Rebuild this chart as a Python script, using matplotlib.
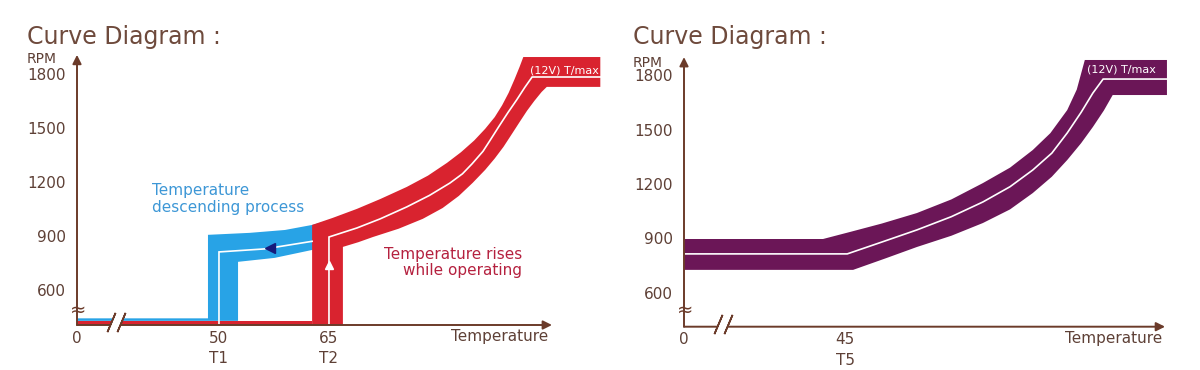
import numpy as np
import matplotlib.pyplot as plt

# colours
BROWN = '#6b3b2a'
TXT = '#5e4036'
RED = '#d9232f'
BLUE = '#28a3e6'
PURPLE = '#6b1657'
NAVY = '#161a7a'
BLUE_TXT = '#3d97d6'
RED_TXT = '#b5213f'

RPM_TICKS = [600, 900, 1200, 1500, 1800]

# ---------------- left diagram (T1 / T2) ----------------
L_TICKS = [0, 50, 65]
L_TICKLABELS = ['0', '50\nT1', '65\nT2']

low_red_t = [0, 62.7]
low_red_rpm = [405, 428]
low_blue_t = [0, 48.5]
low_blue_rpm = [428, 442]

# blue "descending" band
blue_top_t = [48.5, 54.2, 59.0, 62.7, 64.0]
blue_top_rpm = [906, 917, 933, 961, 975]
blue_bot_t = [52.6, 57.6, 62.7, 64.0]
blue_bot_rpm = [756, 778, 822, 830]
blue_line_t = [50, 50, 56.3, 62.7]
blue_line_rpm = [405, 811, 828, 870]
blue_arrow = (57.0, 832)

# red "rising" band
red_block_t = [62.7, 66.9]
red_outer_t = [62.7, 65.5, 68.8, 72.0, 75.6, 78.5, 81.1, 83.0, 84.8, 86.3,
               87.6, 88.6, 89.5, 90.3, 91.0, 91.5, 102.0]
red_outer_rpm = [961, 1000, 1050, 1105, 1172, 1235, 1306, 1365, 1430, 1495,
                 1560, 1625, 1695, 1770, 1840, 1894, 1894]
red_inner_t = [66.9, 69.0, 71.0, 74.5, 77.8, 80.5, 82.7, 84.6, 86.3, 87.6,
               88.8, 90.0, 91.0, 92.0, 93.0, 94.0, 94.7, 102.0]
red_inner_rpm = [839, 865, 894, 940, 995, 1055, 1122, 1195, 1267, 1330,
                 1395, 1470, 1533, 1595, 1650, 1700, 1728, 1728]
red_line_t = [65, 65, 68.8, 72.0, 75.6, 78.7, 81.5, 83.2, 84.5, 86.0, 87.0,
              88.2, 89.4, 90.6, 91.7, 92.7, 102.0]
red_line_rpm = [405, 894, 944, 995, 1061, 1125, 1194, 1245, 1300, 1370, 1433,
                1510, 1585, 1656, 1725, 1783, 1783]
red_arrow = (65, 739)

# ---------------- right diagram (T5) ----------------
R_TICKS = [0, 45]
R_TICKLABELS = ['0', '45\nT5']

purple_top_t = [0, 42.0, 45.7, 50.0, 54.8, 59.5, 63.8, 67.5, 70.6, 73.0,
                75.3, 76.6, 77.7, 88.9]
purple_top_rpm = [897, 897, 936, 982, 1040, 1115, 1205, 1290, 1387, 1480,
                  1607, 1720, 1883, 1883]
purple_bot_t = [0, 46.1, 50.5, 54.8, 59.5, 63.8, 67.5, 70.6, 73.2, 75.3,
                77.2, 78.8, 80.3, 81.5, 88.9]
purple_bot_rpm = [727, 727, 790, 853, 915, 985, 1060, 1150, 1240, 1332,
                  1425, 1514, 1605, 1690, 1690]
purple_line_t = [0, 45.3, 50.0, 54.8, 59.5, 63.8, 67.5, 70.6, 73.2, 75.3,
                 77.2, 78.8, 80.2, 88.9]
purple_line_rpm = [815, 815, 880, 947, 1020, 1101, 1185, 1277, 1370, 1481,
                   1595, 1701, 1778, 1778]


def tx(t, x0, brk):
    # broken temperature axis: 0..brk squeezed into x0..brk
    t = np.asarray(t, dtype=float)
    return np.where(t < brk, x0 + t * (brk - x0) / brk, t)


def band(ax, top_t, top_rpm, bot_t, bot_rpm, x0, brk, color, start=None):
    xs = list(tx(top_t, x0, brk)) + list(tx(bot_t, x0, brk))[::-1]
    ys = list(top_rpm) + list(bot_rpm)[::-1]
    if start is not None:
        xs = [tx(start[0], x0, brk)] + xs + [tx(start[1], x0, brk)]
        ys = [start[2]] + ys + [start[2]]
    ax.fill(xs, ys, color=color, lw=0, zorder=2)


def axis_frame(ax, x0, xmax, x_arrow, y0, ymax, y_arrow, ticks, labels,
               brk, temp_x, ybrk):
    ax.set_xlim(x0, xmax)
    ax.set_ylim(y0, ymax)
    for s in ax.spines.values():
        s.set_visible(False)
    ax.set_yticks(RPM_TICKS)
    ax.set_yticklabels([str(v) for v in RPM_TICKS])
    ax.set_xticks(list(tx(ticks, x0, brk)))
    ax.set_xticklabels(labels)
    ax.tick_params(axis='y', length=0, pad=8, labelsize=11, labelcolor=TXT)
    ax.tick_params(axis='x', length=0, pad=4, labelsize=11, labelcolor=TXT)
    for lab in ax.get_xticklabels():
        lab.set_linespacing(1.45)

    arr = dict(arrowstyle='-|>', color=BROWN, lw=1.4, mutation_scale=13,
               shrinkA=0, shrinkB=0)
    ax.annotate('', xy=(x_arrow, y0), xytext=(x0, y0), arrowprops=arr,
                annotation_clip=False, zorder=5)
    ax.annotate('', xy=(x0, y_arrow), xytext=(x0, y0), arrowprops=arr,
                annotation_clip=False, zorder=5)
    ax.annotate('Temperature', xy=(temp_x, y0), xytext=(0, -3),
                textcoords='offset points', ha='right', va='top',
                fontsize=11, color=TXT)

    # axis breaks
    ax.annotate('≈', xy=(x0, ybrk), xytext=(1, 0), textcoords='offset points',
                ha='center', va='center', fontsize=14, color=BROWN, zorder=7,
                annotation_clip=False)
    ax.plot([brk], [y0 + 14], marker=(2, 2, -23), ms=16, mew=7,
            color='white', zorder=6, clip_on=False)
    for dx in (-0.7, 0.7):
        ax.plot([brk + dx], [y0 + 14], marker=(2, 2, -23), ms=15, mew=1.2,
                color=BROWN, zorder=7, clip_on=False)


fig = plt.figure(figsize=(12, 3.7), dpi=100)
ax1 = fig.add_axes([77 / 1200, 45 / 370, 528 / 1200, 275 / 370])
ax2 = fig.add_axes([684 / 1200, 43.3 / 370, 496 / 1200, 276.7 / 370])

# ---- left ----
L_X0, L_BRK = 30.64, 36.0
ax1.fill_between(tx(low_red_t, L_X0, L_BRK), low_red_rpm[0], low_red_rpm[1],
                 color=RED, lw=0, zorder=1)
band(ax1, [0, 48.5] + blue_top_t, [low_blue_rpm[1], low_blue_rpm[1]] + blue_top_rpm,
     [low_blue_t[0], 52.6] + blue_bot_t, [low_blue_rpm[0], low_blue_rpm[0]] + blue_bot_rpm,
     L_X0, L_BRK, BLUE)
ax1.plot(tx(blue_line_t, L_X0, L_BRK), blue_line_rpm, color='white', lw=1.2,
         solid_joinstyle='miter', zorder=3)
ax1.plot(tx([blue_arrow[0]], L_X0, L_BRK), [blue_arrow[1]], marker='<', ms=7,
         color=NAVY, lw=0, zorder=4)

band(ax1, red_outer_t, red_outer_rpm, red_inner_t, red_inner_rpm,
     L_X0, L_BRK, RED, start=(red_block_t[0], red_block_t[1], low_red_rpm[0]))
ax1.plot(tx(red_line_t, L_X0, L_BRK), red_line_rpm, color='white', lw=1.2,
         solid_joinstyle='miter', zorder=3)
ax1.plot([red_arrow[0]], [red_arrow[1]], marker='^', ms=6, color='white',
         lw=0, zorder=4)

ax1.text(92.4, 1817, '(12V) T/max', color='white', fontsize=8,
         ha='left', va='center', zorder=4)
ax1.text(40.9, 1105, 'Temperature\ndescending process', color=BLUE_TXT,
         fontsize=11, ha='left', va='center', linespacing=1.1)
ax1.text(91.3, 752, 'Temperature rises\nwhile operating', color=RED_TXT,
         fontsize=11, ha='right', va='center', multialignment='right',
         linespacing=1.1)

axis_frame(ax1, L_X0, 102.64, 95.41, 405, 1933, 1906, L_TICKS, L_TICKLABELS,
           L_BRK, 94.86, 489)

# ---- right ----
R_X0, R_BRK = 23.04, 28.4
band(ax2, purple_top_t, purple_top_rpm, purple_bot_t, purple_bot_rpm,
     R_X0, R_BRK, PURPLE)
ax2.plot(tx(purple_line_t, R_X0, R_BRK), purple_line_rpm, color='white',
         lw=1.2, solid_joinstyle='miter', zorder=3)
ax2.text(78.0, 1828, '(12V) T/max', color='white', fontsize=8,
         ha='left', va='center', zorder=4)

axis_frame(ax2, R_X0, 90.68, 88.64, 414, 1938, 1899, R_TICKS, R_TICKLABELS,
           R_BRK, 88.23, 506)

# titles and RPM captions
for xp in (27, 633):
    fig.text(xp / 1200, 1 - 44 / 370, 'Curve Diagram :', fontsize=17,
             color='#6e4a3c', va='baseline')
fig.text(27 / 1200, 1 - 63 / 370, 'RPM', fontsize=10, color=TXT, va='baseline')
fig.text(633 / 1200, 1 - 67 / 370, 'RPM', fontsize=10, color=TXT, va='baseline')

fig.savefig('out.png', dpi=100)
